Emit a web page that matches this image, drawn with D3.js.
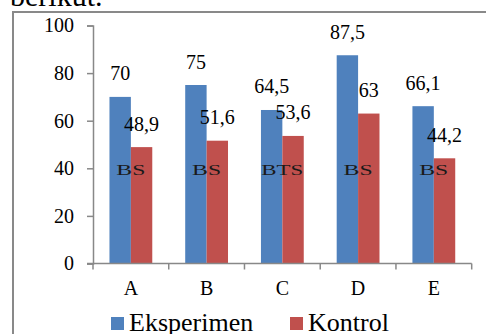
<!DOCTYPE html>
<html><head><meta charset="utf-8">
<script src="https://cdn.jsdelivr.net/npm/d3@7"></script>
<style>html,body{margin:0;padding:0;background:#fff;overflow:hidden}</style>
</head><body>
<script>
const categories = ["A","B","C","D","E"];
const seriesNames = ["Eksperimen","Kontrol"];
const eksperimen = [70, 75, 64.5, 87.5, 66.1];
const kontrol = [48.9, 51.6, 53.6, 63, 44.2];
const valueLabels = [["70","48,9"],["75","51,6"],["64,5","53,6"],["87,5","63"],["66,1","44,2"]];
const signif = ["BS","BS","BTS","BS","BS"];
const yTicks = [0,20,40,60,80,100];
const colors = ["#4F81BD","#C0504D"];

const W=486,H=334;
const font = "'Liberation Serif','Times New Roman',serif";
const svg = d3.select("body").append("svg").attr("width",W).attr("height",H)
  .style("font-family",font);

svg.append("text").attr("x",10).attr("y",6).attr("font-size",30).attr("fill","#000").text("berikut.");
svg.append("rect").attr("x",13).attr("y",12).attr("width",W+10).attr("height",H+10)
  .attr("fill","none").attr("stroke","#898989").attr("stroke-width",2);

const y = d3.scaleLinear().domain([0,100]).range([263.5,25.5]);
const x = d3.scaleBand().domain(categories).range([93,471.7]);
const bw = x.bandwidth();
const x1 = d3.scaleBand().domain(seriesNames).range([bw/2-21.4, bw/2+21.4]);

const data = categories.map((c,i)=>({c, vals:[eksperimen[i],kontrol[i]], labels:valueLabels[i], sig:signif[i]}));

const axisColor="#888";
const yAxis = svg.append("g").attr("transform","translate(93,0)")
  .call(d3.axisLeft(y).tickValues(yTicks).tickSize(6).tickSizeOuter(6).tickPadding(13));
yAxis.select(".domain").attr("stroke",axisColor).attr("stroke-width",1.5);
yAxis.selectAll(".tick line").attr("stroke",axisColor).attr("stroke-width",1.5);
yAxis.selectAll(".tick text").attr("font-size",20).attr("font-family",font).attr("fill","#000");

const groups = svg.selectAll("g.grp").data(data).enter().append("g").attr("class","grp")
  .attr("transform",d=>`translate(${x(d.c)},0)`);
groups.selectAll("rect").data(d=>d.vals.map((v,j)=>({v,j,s:seriesNames[j]}))).enter().append("rect")
  .attr("x",d=>x1(d.s)).attr("width",x1.bandwidth())
  .attr("y",d=>y(d.v)).attr("height",d=>y(0)-y(d.v))
  .attr("fill",d=>colors[d.j]);
groups.selectAll("text.val").data(d=>d.vals.map((v,j)=>({v,j,s:seriesNames[j],l:d.labels[j]}))).enter().append("text")
  .attr("class","val")
  .attr("x",d=>x1(d.s)+x1.bandwidth()/2).attr("y",d=>y(d.v)-16.5)
  .attr("text-anchor","middle").attr("font-size",20).attr("fill","#000").text(d=>d.l);
groups.append("text").attr("x",bw/2).attr("y",175).attr("text-anchor","middle")
  .attr("font-size",15).attr("fill","#1a1a1a")
  .attr("textLength",d=>d.sig.length===2?29:42).attr("lengthAdjust","spacingAndGlyphs")
  .text(d=>d.sig);

// x axis
const xAxis = svg.append("g").attr("transform",`translate(0,${y(0)})`)
  .call(d3.axisBottom(x).tickSize(0).tickPadding(17));
xAxis.select(".domain").remove();
xAxis.selectAll(".tick text").attr("font-size",20).attr("font-family",font).attr("fill","#000");
svg.append("line").attr("x1",87).attr("x2",x.range()[1]).attr("y1",y(0)).attr("y2",y(0))
  .attr("stroke",axisColor).attr("stroke-width",1.5);
const bounds = categories.map(c=>x(c)).concat([x.range()[1]]);
svg.selectAll("line.xt").data(bounds).enter().append("line").attr("class","xt")
  .attr("x1",d=>d).attr("x2",d=>d).attr("y1",y(0)).attr("y2",y(0)+6)
  .attr("stroke",axisColor).attr("stroke-width",1.5);

// legend
const legX=[111,290];
const leg = svg.selectAll("g.leg").data(seriesNames).enter().append("g").attr("class","leg")
  .attr("transform",(d,i)=>`translate(${legX[i]},0)`);
leg.append("rect").attr("x",0).attr("y",317).attr("width",13).attr("height",13).attr("fill",(d,i)=>colors[i]);
leg.append("text").attr("x",18).attr("y",331).attr("font-size",26).attr("fill","#000").text(d=>d);
</script>
</body></html>
